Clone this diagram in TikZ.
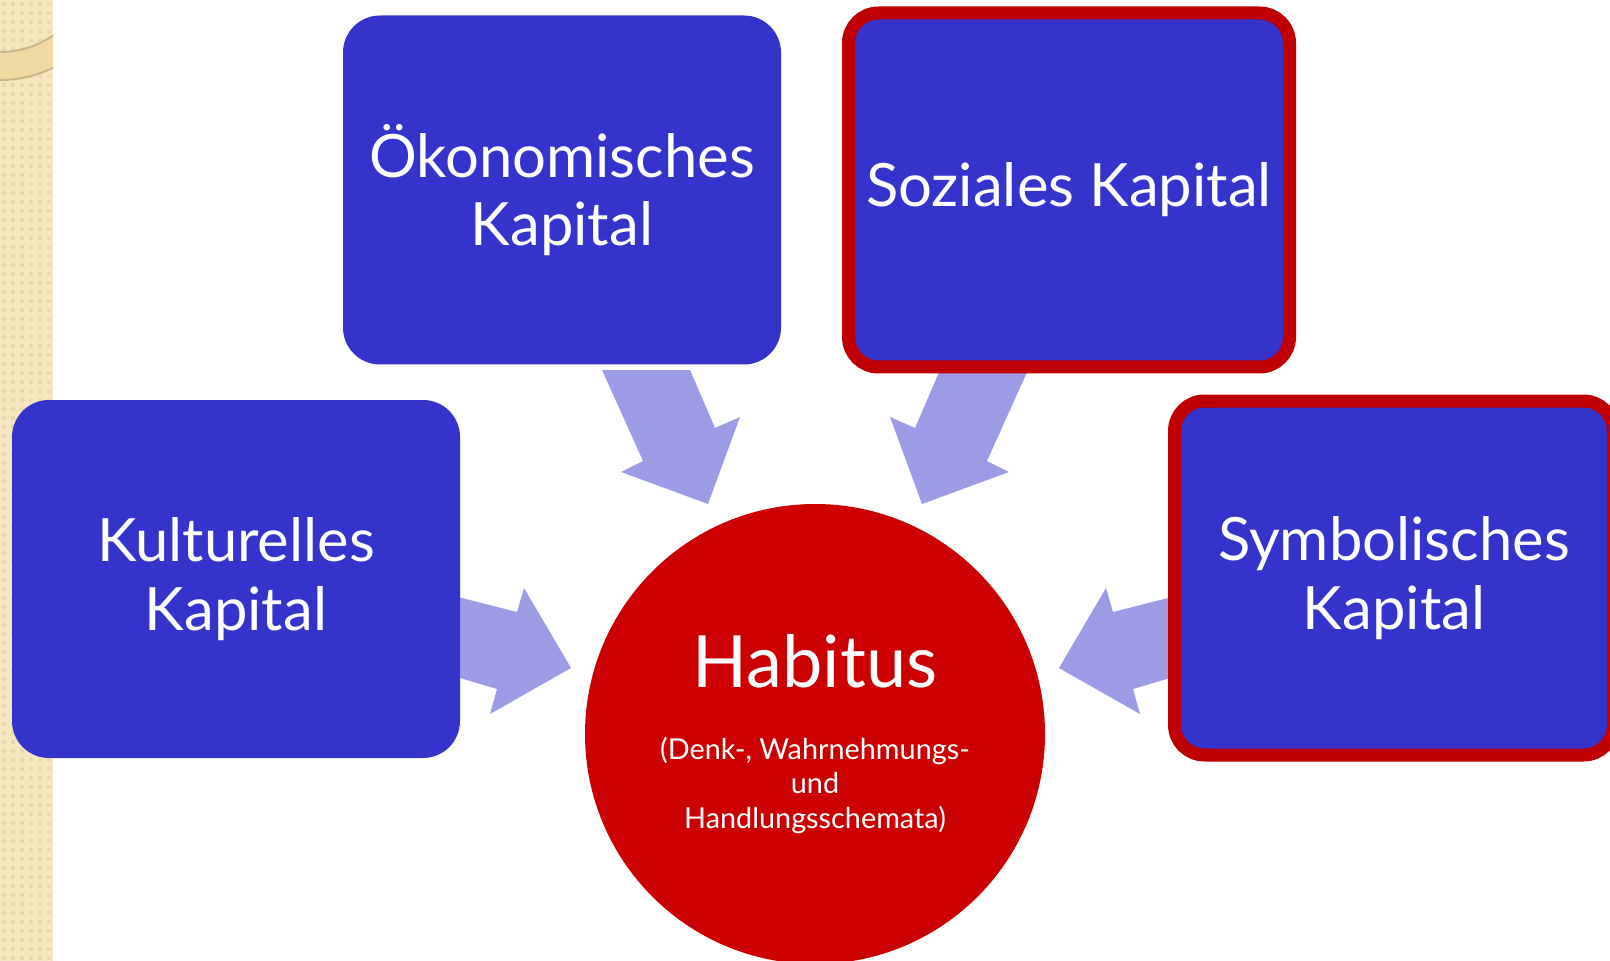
\documentclass[tikz,border=0pt]{standalone}
\usepackage{fontspec}
\setmainfont{Lato}
\usetikzlibrary{positioning,calc}

\definecolor{boxblue}{HTML}{3433CB}
\definecolor{framered}{HTML}{C00000}
\definecolor{circlered}{HTML}{CC0000}
\definecolor{arrowblue}{HTML}{9C9CE6}
\definecolor{stripbeige}{HTML}{F6E7C0}
\definecolor{stripdot}{HTML}{EAD8AC}
\definecolor{ringbeige}{HTML}{F2D9A2}
\definecolor{ringedge}{HTML}{C8B58C}

\begin{document}
\begin{tikzpicture}
  [
    x = 0.1mm, y = -0.1mm,
    kapital/.style  = {rectangle, rounded corners = 3.7mm, fill = boxblue, text = white,
                       align = center, inner sep = 0pt,
                       font = \fontsize{17}{19.5}\selectfont},
    framed/.style   = {draw = framered, line width = 1.3mm, rounded corners = 3mm},
    habit/.style    = {circle, fill = circlered, text = white, align = center,
                       inner sep = 0pt, minimum size = 46mm,
                       font = \fontsize{8.2}{9.7}\selectfont},
    blockarrow/.style = {fill = arrowblue},
  ]

  % page
  \fill[white] (0,0) rectangle (1610,961);
  \useasboundingbox (0,0) rectangle (1610,961);

  % the beige strip on the left
  \fill[stripbeige] (0,0) rectangle (53,961);
  \foreach \i in {0,...,5}
    \foreach \j in {0,...,106}
      \fill[stripdot] (\i*9+2,\j*9+2) rectangle ++(4,4);
  \begin{scope}
    \clip (0,0) rectangle (53,961);
    \draw[ringedge, fill = ringbeige, even odd rule, line width = 0.2mm]
      (0,-41) circle (12.1mm) (0,-41) circle (9.3mm);
  \end{scope}

  % block arrows, the right ones are mirrored
  \foreach \mirror in {1,-1}
    {
      \begin{scope}[xshift = 81.5mm, xscale = \mirror, xshift = -81.5mm]
        \fill[blockarrow] (602,370) -- (690,370) -- (715,428) -- (740,417)
          -- (708,504) -- (621,472) -- (643,461) -- cycle;
        \fill[blockarrow] (450,595) -- (517,612) -- (524,588) -- (571,668)
          -- (490,714) -- (497,689) -- (450,675) -- cycle;
      \end{scope}
    }

  % the four kinds of capital
  \node (oekon) at (562,190) [kapital, minimum width = 43.8mm, minimum height = 34.9mm]
    {Ökonomisches\\Kapital};
  \node (sozial) at (1069,190) [kapital, framed, minimum width = 44.1mm, minimum height = 35.4mm]
    {Soziales Kapital};
  \node (kultur) at (236,579) [kapital, minimum width = 44.8mm, minimum height = 35.8mm]
    {Kulturelles\\Kapital};
  \node (symbol) at (1394,578) [kapital, framed, minimum width = 43.9mm, minimum height = 35.4mm]
    {Symbolisches\\Kapital};

  % habitus in the middle
  \node (habitus) at (815,734) [habit]
    {{\fontsize{20.5}{24}\selectfont Habitus}\\[3.8mm]
     (Denk-, Wahrnehmungs-\\und\\Handlungsschemata)};
\end{tikzpicture}
\end{document}
